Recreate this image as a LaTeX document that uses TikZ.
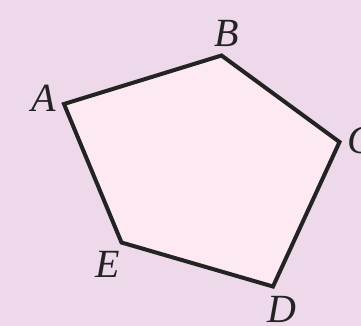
\documentclass[tikz,border=0pt]{standalone}
\usepackage{fontspec}
\setmainfont{Liberation Serif}
\definecolor{bgc}{HTML}{EDD9EA}
\definecolor{fillc}{HTML}{FDE9F1}
\definecolor{linec}{HTML}{232323}
\begin{document}
\begin{tikzpicture}[x=1pt,y=-1pt,
  lbl/.style={inner sep=0pt,text=linec,font=\fontsize{40}{40}\selectfont\itshape}]
\fill[bgc] (0,0) rectangle (361,326);
\useasboundingbox (0,0) rectangle (361,326);
\coordinate (A) at (64,104);
\coordinate (B) at (221.5,55.5);
\coordinate (C) at (339.5,142);
\coordinate (D) at (273,286.5);
\coordinate (E) at (121.5,242.5);
\draw[fill=fillc,draw=linec,line width=4pt,line join=miter] (A) -- (B) -- (C) -- (D) -- (E) -- cycle;
\node[lbl] (la) at (43.5,98) {A};
\node[lbl] (lb) at (226.5,33) {B};
\node[lbl] (lc) at (361,140) {C};
\node[lbl] (ld) at (282,309.5) {D};
\node[lbl] (le) at (108,264.5) {E};
\end{tikzpicture}
\end{document}
